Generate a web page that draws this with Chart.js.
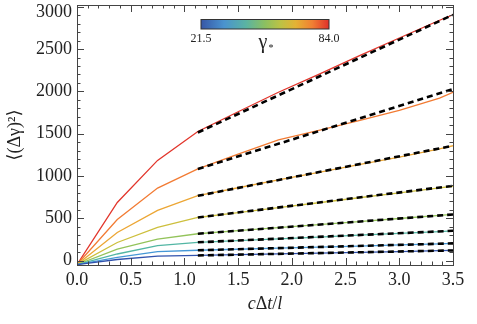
<!DOCTYPE html>
<html>
<head>
<meta charset="utf-8">
<script src="https://cdn.jsdelivr.net/npm/chart.js@4"></script>
<style>
  body { margin: 0; background: #fff; }
  #chart { display: block; }
</style>
</head>
<body>
<canvas id="chart" width="477" height="324"></canvas>
<script>
const xValues = [0, 0.375, 0.75, 1.125, 1.5, 1.875, 2.25, 2.625, 3.0, 3.375, 3.5];

// one curve per gamma_*, from low (blue) to high (red)
const blueValues = [-45, 15, 55, 63, 72, 81, 91, 100, 109, 119, 122];
const lightBlueValues = [-45, 40, 107, 124, 136, 149, 161, 174, 187, 199, 205];
const tealValues = [-45, 80, 178, 218, 237, 258, 280, 302, 323, 345, 354];
const greenValues = [-45, 138, 256, 319, 355, 391, 427, 463, 499, 535, 547];
const oliveValues = [-45, 216, 393, 511, 569, 627, 685, 744, 802, 860, 880];
const amberValues = [-45, 334, 594, 770, 862, 955, 1045, 1135, 1225, 1320, 1358];
const orangeValues = [-45, 487, 858, 1085, 1260, 1428, 1540, 1655, 1775, 1920, 1990];
const redValues = [-45, 688, 1185, 1527, 1760, 1990, 2200, 2420, 2630, 2840, 2905];

// linear fits over the late-time range
const fitRange = [1.125, 3.5];
const fitStart = [63, 124, 218, 319, 511, 767, 1083, 1515];
const fitEnd = [122, 205, 354, 547, 885, 1358, 2027, 2904];

const xTicks = [0, 0.5, 1.0, 1.5, 2.0, 2.5, 3.0, 3.5];
const yTicks = [0, 500, 1000, 1500, 2000, 2500, 3000];
const gammaRange = [21.5, 84.0];

const series = [blueValues, lightBlueValues, tealValues, greenValues, oliveValues, amberValues, orangeValues, redValues];
const lineColors = ['#3152ad', '#4597d6', '#52b6a4', '#93c35a', '#cdbf3c', '#eca634', '#f27b33', '#e2352b'];

const serif = "'Liberation Serif', 'DejaVu Serif', serif";
const canvas = document.getElementById('chart');

const datasets = [];
fitStart.forEach((start, i) => {
  datasets.push({
    data: [{ x: fitRange[0], y: start }, { x: fitRange[1], y: fitEnd[i] }],
    borderColor: '#000',
    borderWidth: 2.6,
    borderDash: [6, 4],
    pointRadius: 0,
    order: 0,
  });
});
series.forEach((values, i) => {
  datasets.push({
    data: values.map((v, j) => ({ x: xValues[j], y: v })),
    borderColor: lineColors[i],
    borderWidth: 1.3,
    pointRadius: 0,
    order: 1,
  });
});

const frameAndExtras = {
  id: 'frameAndExtras',
  afterDraw(chart) {
    const ctx = chart.ctx;
    const a = chart.chartArea;
    const xs = chart.scales.x;
    const ys = chart.scales.y;
    ctx.save();
    ctx.strokeStyle = '#444';
    ctx.lineWidth = 1;

    // inward ticks on all four sides
    ctx.beginPath();
    for (let v = 0; v <= 3.5001; v += 0.1) {
      const px = Math.round(xs.getPixelForValue(v)) + 0.5;
      const major = Math.abs(v / 0.5 - Math.round(v / 0.5)) < 1e-6;
      const len = major ? 7 : 3.5;
      ctx.moveTo(px, a.bottom); ctx.lineTo(px, a.bottom - len);
      ctx.moveTo(px, a.top); ctx.lineTo(px, a.top + len);
    }
    for (let v = 0; v <= 3000; v += 100) {
      const py = Math.round(ys.getPixelForValue(v)) + 0.5;
      const len = v % 500 === 0 ? 7 : 3.5;
      ctx.moveTo(a.left, py); ctx.lineTo(a.left + len, py);
      ctx.moveTo(a.right, py); ctx.lineTo(a.right - len, py);
    }
    ctx.stroke();
    ctx.strokeRect(Math.round(a.left) + 0.5, Math.round(a.top) + 0.5,
      Math.round(a.right - a.left), Math.round(a.bottom - a.top));

    // y tick labels, the top one kept inside the canvas
    ctx.fillStyle = '#222';
    ctx.font = '18px ' + serif;
    ctx.textAlign = 'right';
    ctx.textBaseline = 'middle';
    yTicks.forEach(v => {
      const py = Math.max(ys.getPixelForValue(v), 12);
      ctx.fillText(String(v), a.left - 5, py);
    });

    // colour bar
    const bx = 201, by = 19.5, bw = 128, bh = 9.5;
    const grad = ctx.createLinearGradient(bx, 0, bx + bw, 0);
    grad.addColorStop(0, '#3656a6');
    grad.addColorStop(0.18, '#4a93cf');
    grad.addColorStop(0.35, '#5ab3a3');
    grad.addColorStop(0.5, '#8cc060');
    grad.addColorStop(0.62, '#bcc245');
    grad.addColorStop(0.74, '#e4b234');
    grad.addColorStop(0.87, '#f07f33');
    grad.addColorStop(1, '#e0302a');
    ctx.fillStyle = grad;
    ctx.fillRect(bx, by, bw, bh);
    ctx.strokeStyle = '#333';
    ctx.strokeRect(bx, by, bw, bh);

    ctx.fillStyle = '#222';
    ctx.font = '12px ' + serif;
    ctx.textAlign = 'center';
    ctx.fillText(gammaRange[0].toFixed(1), bx, 39);
    ctx.fillText(gammaRange[1].toFixed(1), bx + bw, 39);
    ctx.font = '20px ' + serif;
    ctx.fillText('γ', 263, 43);
    ctx.font = '10px ' + serif;
    ctx.fillText('*', 271, 48);

    // axis titles
    ctx.font = '18px ' + serif;
    ctx.save();
    ctx.translate(15, (a.top + a.bottom) / 2);
    ctx.rotate(-Math.PI / 2);
    ctx.fillText('⟨(Δγ)²⟩', 0, 0);
    ctx.restore();

    const parts = [['c', 'italic '], ['Δ', ''], ['t', 'italic '], ['/', ''], ['l', 'italic ']];
    let total = 0;
    parts.forEach(p => { ctx.font = p[1] + '18px ' + serif; total += ctx.measureText(p[0]).width; });
    let x = (a.left + a.right) / 2 - total / 2;
    ctx.textAlign = 'left';
    parts.forEach(p => {
      ctx.font = p[1] + '18px ' + serif;
      ctx.fillText(p[0], x, 304);
      x += ctx.measureText(p[0]).width;
    });
    ctx.restore();
  },
};

new Chart(canvas, {
  type: 'line',
  data: { datasets: datasets },
  options: {
    responsive: false,
    animation: false,
    devicePixelRatio: 1,
    layout: { padding: { left: 0, right: 24, top: 5, bottom: 0 } },
    plugins: { legend: { display: false }, tooltip: { enabled: false } },
    elements: { line: { tension: 0 } },
    scales: {
      x: {
        type: 'linear',
        min: 0,
        max: 3.5,
        afterFit: s => { s.height = 59; s.paddingLeft = 0; s.paddingRight = 0; },
        afterBuildTicks: s => { s.ticks = xTicks.map(v => ({ value: v })); },
        grid: { display: false, drawTicks: false },
        border: { display: false },
        ticks: {
          padding: 4,
          maxRotation: 0,
          color: '#222',
          font: { family: serif, size: 18 },
          callback: v => Number(v).toFixed(1),
        },
      },
      y: {
        type: 'linear',
        min: -50,
        max: 3020,
        afterFit: s => { s.width = 77; s.paddingTop = 0; s.paddingBottom = 0; },
        afterBuildTicks: s => { s.ticks = yTicks.map(v => ({ value: v })); },
        grid: { display: false },
        border: { display: false },
        ticks: { display: false },
      },
    },
  },
  plugins: [frameAndExtras],
});
</script>
</body>
</html>
